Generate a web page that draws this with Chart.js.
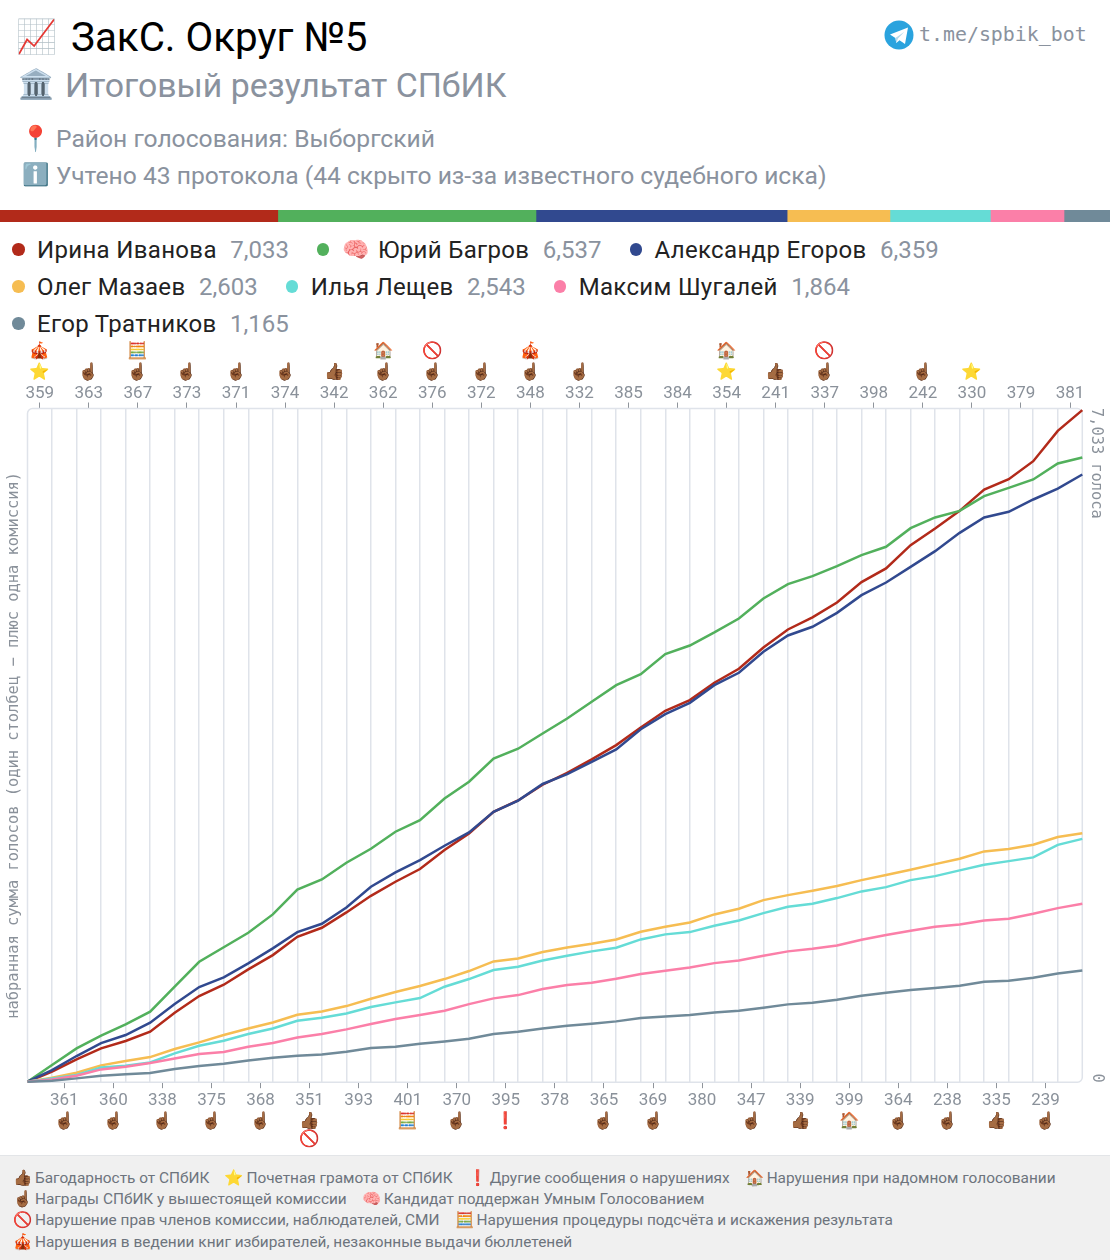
<!DOCTYPE html>
<html lang="ru">
<head>
<meta charset="utf-8">
<title>ЗакС. Округ №5</title>
<script src="https://cdn.jsdelivr.net/npm/chart.js@4"></script>
<style>
  * { box-sizing: border-box; }
  html, body { margin: 0; padding: 0; background: #fff; }
  body { width: 1110px; height: 1260px; position: relative; overflow: hidden; font-family: Roboto, sans-serif; }
  .abs { position: absolute; white-space: nowrap; }
  .emo { position: absolute; line-height: 1; transform: translate(-50%, -50%); white-space: nowrap; }
  #title { left: 71px; top: 14px; font-size: 40.3px; line-height: 47px; color: #000; }
  #subtitle { left: 65px; top: 66px; font-size: 33.85px; line-height: 40px; color: #8a929e; }
  .meta { left: 56px; font-size: 24.65px; line-height: 30px; color: #8a929e; }
  #bot { left: 919px; top: 23px; font-family: "DejaVu Sans Mono", monospace; font-size: 19.9px; line-height: 24px; color: #8a929e; }
  #tg { position: absolute; left: 884px; top: 20px; }
  #totals { position: absolute; left: 0; top: 210px; }
  #legend { position: absolute; left: 12px; top: 231px; width: 1098px; display: flex; flex-wrap: wrap; column-gap: 28px; }
  .lg { display: flex; align-items: center; height: 37px; font-size: 24px; color: #222; }
  .lg i { width: 12.5px; height: 12.5px; border-radius: 50%; margin-right: 12.5px; }
  .lg em { font-style: normal; font-size: 22px; width: 36px; }
  .lg span { letter-spacing: 0.33px; }
  .lg b { font-weight: 400; color: #8a929e; margin-left: 13.5px; }
  #chart { position: absolute; left: 0; top: 340px; }
  #foot { position: absolute; left: 0; top: 1155px; width: 1110px; height: 105px; background: #f0f0f0; border-top: 1px solid #e3e5e8;
          padding: 11px 0 0 14px; display: flex; flex-wrap: wrap; column-gap: 16px; align-content: flex-start; }
  .key { display: flex; align-items: center; height: 21.4px; font-size: 15.4px; color: #6d747d; white-space: nowrap; }
  .key em { font-style: normal; font-size: 15.5px; width: 21px; margin-left: -1px; margin-right: 1px; }
</style>
</head>
<body>
<div class="emo" style="left:36px;top:36px;font-size:33px">📈</div>
<div class="abs" id="title">ЗакС. Округ №5</div>
<div class="emo" style="left:36px;top:84px;font-size:29px">🏛️</div>
<div class="abs" id="subtitle">Итоговый результат СПбИК</div>
<div class="emo" style="left:35px;top:138px;font-size:25px">📍</div>
<div class="abs meta" style="top:124px">Район голосования: Выборгский</div>
<div class="emo" style="left:35px;top:175px;font-size:22px">ℹ️</div>
<div class="abs meta" style="top:161px">Учтено 43 протокола (44 скрыто из-за известного судебного иска)</div>
<canvas id="tg" width="30" height="30"></canvas>
<div class="abs" id="bot">t.me/spbik_bot</div>
<canvas id="totals" width="1110" height="12"></canvas>
<div id="legend"></div>
<canvas id="chart" width="1110" height="815"></canvas>
<div id="foot"></div>

<script>
'use strict';
const uik = [359, 361, 363, 360, 367, 338, 373, 375, 371, 368, 374, 351, 342, 393, 362, 401, 376, 370, 372, 395, 348, 378,
  332, 365, 385, 369, 384, 380, 354, 347, 241, 339, 337, 399, 398, 364, 242, 238, 330, 335, 379, 239, 381];

const ivanova = [0, 105, 234, 349, 426, 524, 722, 897, 1016, 1176, 1326, 1518, 1612, 1773, 1947, 2094, 2227, 2426, 2600, 2827, 2945, 3110,
  3235, 3375, 3525, 3710, 3884, 3996, 4178, 4324, 4547, 4736, 4862, 5019, 5232, 5375, 5619, 5793, 5978, 6202, 6310, 6498, 6816, 7033];
const bagrov = [0, 175, 349, 482, 600, 733, 995, 1256, 1408, 1560, 1752, 2012, 2118, 2293, 2440, 2618, 2740, 2966, 3141, 3385, 3487, 3647,
  3804, 3979, 4153, 4268, 4478, 4568, 4705, 4851, 5061, 5211, 5294, 5399, 5514, 5602, 5797, 5909, 5978, 6132, 6219, 6307, 6474, 6537];
const egorov = [0, 122, 269, 405, 489, 618, 813, 991, 1092, 1239, 1396, 1567, 1654, 1825, 2042, 2192, 2321, 2471, 2611, 2827, 2944, 3118,
  3221, 3350, 3480, 3692, 3849, 3968, 4153, 4282, 4502, 4673, 4764, 4910, 5095, 5228, 5392, 5556, 5748, 5909, 5968, 6097, 6212, 6359];
const mazaev = [0, 42, 94, 171, 216, 258, 342, 412, 489, 558, 621, 701, 736, 792, 869, 939, 1002, 1075, 1159, 1260, 1291, 1358,
  1406, 1445, 1490, 1570, 1623, 1668, 1752, 1811, 1902, 1954, 2000, 2049, 2111, 2164, 2220, 2279, 2335, 2412, 2436, 2481, 2562, 2603];
const leshchev = [0, 35, 70, 150, 168, 202, 297, 377, 429, 499, 558, 639, 670, 715, 782, 831, 876, 995, 1075, 1169, 1204, 1270,
  1319, 1365, 1403, 1490, 1543, 1567, 1633, 1689, 1766, 1832, 1864, 1923, 1993, 2038, 2111, 2153, 2213, 2272, 2310, 2349, 2481, 2543];
const shugaley = [0, 24, 63, 129, 157, 195, 244, 290, 311, 366, 405, 464, 499, 548, 604, 656, 698, 743, 813, 873, 907, 970,
  1012, 1037, 1078, 1127, 1162, 1197, 1242, 1270, 1319, 1365, 1393, 1427, 1487, 1536, 1581, 1623, 1647, 1689, 1707, 1759, 1818, 1864];
const tratnikov = [0, 10, 35, 63, 77, 91, 133, 164, 188, 223, 251, 272, 286, 314, 352, 366, 398, 422, 450, 499, 524, 558,
  585, 607, 632, 667, 684, 698, 726, 743, 775, 810, 827, 859, 900, 932, 960, 981, 1005, 1047, 1057, 1089, 1134, 1165];

const names = ['Ирина Иванова', 'Юрий Багров', 'Александр Егоров', 'Олег Мазаев', 'Илья Лещев', 'Максим Шугалей', 'Егор Тратников'];
const totals = [7033, 6537, 6359, 2603, 2543, 1864, 1165];
const colors = ['#b22a1a', '#52b05c', '#31498f', '#f6bd52', '#65dcd6', '#fb7fa8', '#708a99'];
const series = [ivanova, bagrov, egorov, mazaev, leshchev, shugaley, tratnikov];

const yTitle = 'набранная сумма голосов (один столбец − плюс одна комиссия)';
const yTopLabel = '7,033 голоса';
const yBottomLabel = '0';

const THUMB = '👍🏾', POINT = '☝🏾', STAR = '⭐', EXCL = '❗', HOUSE = '🏠', NO = '🚫', ABACUS = '🧮', TENT = '🎪', BRAIN = '🧠';

// marks next to the tick of each commission: nearest the axis, then the outer one
const marks1 = [STAR, POINT, POINT, POINT, POINT, POINT, POINT, POINT, POINT, POINT, POINT, THUMB, THUMB, null, POINT, ABACUS, POINT, POINT, POINT, EXCL, POINT, null,
  POINT, POINT, null, POINT, null, null, STAR, POINT, THUMB, THUMB, POINT, HOUSE, null, POINT, POINT, POINT, STAR, THUMB, null, POINT, null];
const marks2 = {359: TENT, 367: ABACUS, 351: NO, 362: HOUSE, 376: NO, 348: TENT, 354: HOUSE, 337: NO};

const footKeys = [
  [THUMB, 'Багодарность от СПбИК'], [STAR, 'Почетная грамота от СПбИК'], [EXCL, 'Другие сообщения о нарушениях'],
  [HOUSE, 'Нарушения при надомном голосовании'], [POINT, 'Награды СПбИК у вышестоящей комиссии'],
  [BRAIN, 'Кандидат поддержан Умным Голосованием'], [NO, 'Нарушение прав членов комиссии, наблюдателей, СМИ'],
  [ABACUS, 'Нарушения процедуры подсчёта и искажения результата'],
  [TENT, 'Нарушения в ведении книг избирателей, незаконные выдачи бюллетеней'],
];

// telegram logo, there is no emoji for it
(function drawTelegram() {
  const c = document.getElementById('tg').getContext('2d');
  c.translate(15, 15);
  c.fillStyle = '#2aa3de'; c.beginPath(); c.arc(0, 0, 14.5, 0, Math.PI * 2); c.fill();
  c.fillStyle = '#fff'; c.beginPath(); c.moveTo(-9, -0.5); c.lineTo(9, -7.5); c.lineTo(6, 9); c.lineTo(0.5, 5.2); c.lineTo(-2.7, 8); c.lineTo(-3.6, 3); c.closePath(); c.fill();
  c.fillStyle = '#b5d9ec'; c.beginPath(); c.moveTo(-3.6, 3); c.lineTo(5.4, -3.2); c.lineTo(-1, 3.6); c.lineTo(-2.7, 8); c.closePath(); c.fill();
})();

const legendBox = document.getElementById('legend');
names.forEach((n, i) => {
  const el = document.createElement('div');
  el.className = 'lg';
  el.innerHTML = `<i style="background:${colors[i]}"></i>${i === 1 ? `<em>${BRAIN}</em>` : ''}<span>${n}</span><b>${totals[i].toLocaleString('en-US')}</b>`;
  legendBox.appendChild(el);
});

const footBox = document.getElementById('foot');
footKeys.forEach(([ic, txt]) => {
  const el = document.createElement('div');
  el.className = 'key';
  el.innerHTML = `<em>${ic}</em>${txt}`;
  footBox.appendChild(el);
});

new Chart(document.getElementById('totals'), {
  type: 'bar',
  data: {
    labels: ['итого'],
    datasets: names.map((n, i) => ({
      label: n, data: [totals[i]], backgroundColor: colors[i], borderWidth: 0,
      barPercentage: 1, categoryPercentage: 1,
    })),
  },
  options: {
    indexAxis: 'y', responsive: false, animation: false,
    plugins: { legend: { display: false }, tooltip: { enabled: false } },
    scales: {
      x: { stacked: true, display: false, min: 0, max: totals.reduce((a, b) => a + b, 0) },
      y: { stacked: true, display: false },
    },
  },
});

const GRID = '#dfe3ea';
const TICK_TEXT = '#8a919a';

const frameAndMarks = {
  id: 'frameAndMarks',
  beforeDatasetsDraw(chart) {
    const { ctx, chartArea: a } = chart;
    ctx.save();
    ctx.strokeStyle = GRID;
    ctx.lineWidth = 1.5;
    ctx.beginPath();
    ctx.roundRect(a.left, a.top, a.right - a.left, a.bottom - a.top, 5);
    ctx.stroke();
    ctx.restore();
  },
  afterDraw(chart) {
    const { ctx, chartArea: a, scales } = chart;
    ctx.save();
    ctx.font = '16.5px Roboto, sans-serif';
    ctx.textAlign = 'center';
    ctx.textBaseline = 'middle';
    uik.forEach((id, i) => {
      const x = scales.x.getPixelForValue(i + 0.5);
      const top = i % 2 === 0;
      if (marks1[i]) ctx.fillText(marks1[i], x, top ? a.top - 35.5 : a.bottom + 39.5);
      if (marks2[id]) ctx.fillText(marks2[id], x, top ? a.top - 56.5 : a.bottom + 57.5);
    });
    ctx.restore();
    // the two labels on the right read top to bottom
    ctx.save();
    ctx.fillStyle = TICK_TEXT;
    ctx.font = '15.3px "DejaVu Sans Mono", monospace';
    ctx.textBaseline = 'middle';
    ctx.translate(1096, scales.y.getPixelForValue(7033) - 2);
    ctx.rotate(Math.PI / 2);
    ctx.textAlign = 'left';
    ctx.fillText(yTopLabel, 0, 0);
    ctx.restore();
    ctx.save();
    ctx.fillStyle = TICK_TEXT;
    ctx.font = '15.3px "DejaVu Sans Mono", monospace';
    ctx.textBaseline = 'middle';
    ctx.translate(1097, scales.y.getPixelForValue(0) + 1);
    ctx.rotate(Math.PI / 2);
    ctx.textAlign = 'right';
    ctx.fillText(yBottomLabel, 0, 0);
    ctx.restore();
  },
};

const labelAxis = (position, offset) => ({
  type: 'linear', position, min: 0, max: uik.length,
  border: { display: false },
  grid: { drawOnChartArea: false, drawTicks: true, tickLength: 6, tickColor: '#8f949b', tickWidth: 1 },
  ticks: {
    autoSkip: false, maxRotation: 0, padding: position === 'top' ? -1 : 2, color: TICK_TEXT,
    font: { family: 'Roboto', size: 17 },
    callback: v => uik[Math.floor(v)],
  },
  afterBuildTicks: s => { s.ticks = uik.map((_, i) => ({ value: i + 0.5 })).filter((_, i) => i % 2 === offset); },
  afterFit: s => { s.height = position === 'top' ? 68.5 : 72.8; },
});

new Chart(document.getElementById('chart'), {
  type: 'line',
  data: {
    datasets: series.map((vals, i) => ({
      label: names[i],
      data: vals.map((v, n) => ({ x: n, y: v })),
      borderColor: colors[i],
      borderWidth: 2.5,
      pointRadius: 0,
      tension: 0,
      fill: false,
      order: -i,
      clip: false,
    })),
  },
  options: {
    responsive: false, animation: false,
    layout: { padding: 0 },
    plugins: { legend: { display: false }, tooltip: { enabled: false } },
    scales: {
      gridX: {
        type: 'linear', position: 'bottom', min: 0, max: uik.length,
        border: { display: false },
        grid: { color: GRID, lineWidth: 1.5, drawTicks: false },
        ticks: { display: false },
        afterBuildTicks: s => { s.ticks = uik.slice(1).map((_, i) => ({ value: i + 1 })); },
        afterFit: s => { s.height = 0; },
      },
      x: labelAxis('bottom', 1),
      xTop: labelAxis('top', 0),
      y: {
        type: 'linear', position: 'left', min: -5, max: 7050,
        border: { display: false }, grid: { display: false },
        ticks: { display: false },
        title: {
          display: true, text: yTitle, color: TICK_TEXT, padding: { top: 5, bottom: 0 },
          font: { family: '"DejaVu Sans Mono"', size: 15.4, weight: 'normal' },
        },
        afterFit: s => { s.width = 27.5; },
      },
      yRight: {
        type: 'linear', position: 'right', min: -5, max: 7050,
        border: { display: false }, grid: { display: false },
        ticks: { display: false },
        afterFit: s => { s.width = 27.7; },
      },
    },
  },
  plugins: [frameAndMarks],
});
</script>
</body>
</html>
